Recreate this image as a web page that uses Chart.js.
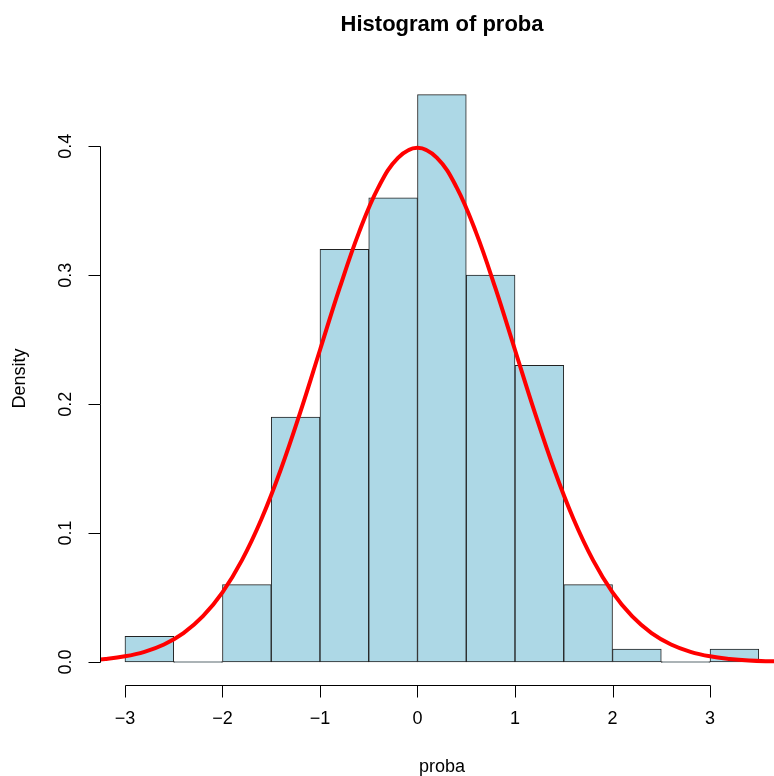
<!DOCTYPE html>
<html>
<head>
<meta charset="utf-8">
<script src="https://cdn.jsdelivr.net/npm/chart.js@4/dist/chart.umd.min.js"></script>
<style>
html,body{margin:0;padding:0;background:#fff;overflow:hidden;}
#wrap{width:774px;height:776px;position:relative;}
</style>
</head>
<body>
<div id="wrap"><canvas id="c" width="774" height="776"></canvas></div>
<script>
// Histogram bins (left edges), width 0.5
const binLeft = [-3, -2.5, -2, -1.5, -1, -0.5, 0, 0.5, 1, 1.5, 2, 2.5, 3];
const binWidth = 0.5;
const densities = [0.02, 0, 0.06, 0.19, 0.32, 0.36, 0.44, 0.30, 0.23, 0.06, 0.01, 0, 0.01];

// Density curve
const curveX = [-3.4,-3.2,-3.0,-2.8,-2.6,-2.4,-2.2,-2.0,-1.8,-1.6,-1.4,-1.2,-1.0,-0.8,-0.6,-0.4,-0.2,0.0,0.2,0.4,0.6,0.8,1.0,1.2,1.4,1.6,1.8,2.0,2.2,2.4,2.6,2.8,3.0,3.2,3.4,3.6,3.8];
const curveY = [0.0012,0.0024,0.0044,0.0079,0.0136,0.0224,0.0355,0.0540,0.0790,0.1109,0.1497,0.1942,0.2420,0.2897,0.3332,0.3683,0.3910,0.3989,0.3910,0.3683,0.3332,0.2897,0.2420,0.1942,0.1497,0.1109,0.0790,0.0540,0.0355,0.0224,0.0136,0.0079,0.0044,0.0024,0.0012,0.0006,0.0003];

const xTicks = [-3, -2, -1, 0, 1, 2, 3];
const xTickLabels = ["\u22123", "\u22122", "\u22121", "0", "1", "2", "3"];
const yTicks = [0.0, 0.1, 0.2, 0.3, 0.4];
const yTickLabels = ["0.0", "0.1", "0.2", "0.3", "0.4"];

const titleText = "Histogram of proba";
const xTitle = "proba";
const yTitle = "Density";

const FONT = '"Liberation Sans", Arial, Helvetica, sans-serif';

const rAxes = {
  id: 'rAxes',
  afterDraw(chart) {
    const ctx = chart.ctx;
    const xs = chart.scales.x, ys = chart.scales.y;
    const area = chart.chartArea;
    ctx.save();
    ctx.strokeStyle = '#000';
    ctx.fillStyle = '#000';
    ctx.lineWidth = 1;
    // X axis
    const yAx = Math.round(ys.getPixelForValue(ys.min)) + 0.5;
    const x0 = Math.round(xs.getPixelForValue(xTicks[0])) + 0.5;
    const x1 = Math.round(xs.getPixelForValue(xTicks[xTicks.length-1])) + 0.5;
    ctx.beginPath();
    ctx.moveTo(x0, yAx); ctx.lineTo(x1, yAx);
    xTicks.forEach(v => {
      const px = Math.round(xs.getPixelForValue(v)) + 0.5;
      ctx.moveTo(px, yAx); ctx.lineTo(px, yAx + 12);
    });
    ctx.stroke();
    ctx.font = '18px ' + FONT;
    ctx.textAlign = 'center';
    ctx.textBaseline = 'middle';
    xTicks.forEach((v, i) => {
      ctx.fillText(xTickLabels[i], xs.getPixelForValue(v), yAx + 34);
    });
    // Y axis
    const xAx = Math.round(xs.getPixelForValue(xs.min)) + 0.5;
    const yy0 = Math.round(ys.getPixelForValue(yTicks[0])) + 0.5;
    const yy1 = Math.round(ys.getPixelForValue(yTicks[yTicks.length-1])) + 0.5;
    ctx.beginPath();
    ctx.moveTo(xAx, yy0); ctx.lineTo(xAx, yy1);
    yTicks.forEach(v => {
      const py = Math.round(ys.getPixelForValue(v)) + 0.5;
      ctx.moveTo(xAx, py); ctx.lineTo(xAx - 12, py);
    });
    ctx.stroke();
    yTicks.forEach((v, i) => {
      ctx.save();
      ctx.translate(xAx - 34, ys.getPixelForValue(v));
      ctx.rotate(-Math.PI/2);
      ctx.fillText(yTickLabels[i], 0, 0);
      ctx.restore();
    });
    // Titles
    const cx = (xs.getPixelForValue(xs.min) + xs.getPixelForValue(3.76)) / 2;
    ctx.fillText(xTitle, cx, 767);
    ctx.save();
    ctx.translate(20, (area.top + area.bottom) / 2);
    ctx.rotate(-Math.PI/2);
    ctx.fillText(yTitle, 0, 0);
    ctx.restore();
    ctx.font = 'bold 22px ' + FONT;
    ctx.fillText(titleText, cx, 25);
    ctx.restore();
  }
};

new Chart(document.getElementById('c'), {
  data: {
    datasets: [
      {
        type: 'line',
        label: 'density',
        data: curveX.map((x, i) => ({x: x, y: curveY[i]})),
        borderColor: '#ff0000',
        borderWidth: 4,
        pointRadius: 0,
        tension: 0.4,
        fill: false,
        order: 0
      },
      {
        type: 'bar',
        label: 'hist',
        data: binLeft.map((l, i) => ({x: l + binWidth/2, y: densities[i]})),
        backgroundColor: '#add8e6',
        borderColor: '#222222',
        borderWidth: 1,
        borderSkipped: false,
        barPercentage: 1,
        categoryPercentage: 1,
        minBarLength: 1,
        order: 1
      }
    ]
  },
  options: {
    responsive: false,
    animation: false,
    events: [],
    layout: { padding: { left: 100, right: 0, top: 72, bottom: 91 } },
    plugins: { legend: { display: false }, tooltip: { enabled: false }, title: { display: false } },
    scales: {
      x: { type: 'linear', min: -3.256, max: 3.656, offset: false, display: false },
      y: { type: 'linear', min: -0.01784, max: 0.4576, offset: false, display: false }
    }
  },
  plugins: [rAxes]
});
</script>
</body>
</html>
